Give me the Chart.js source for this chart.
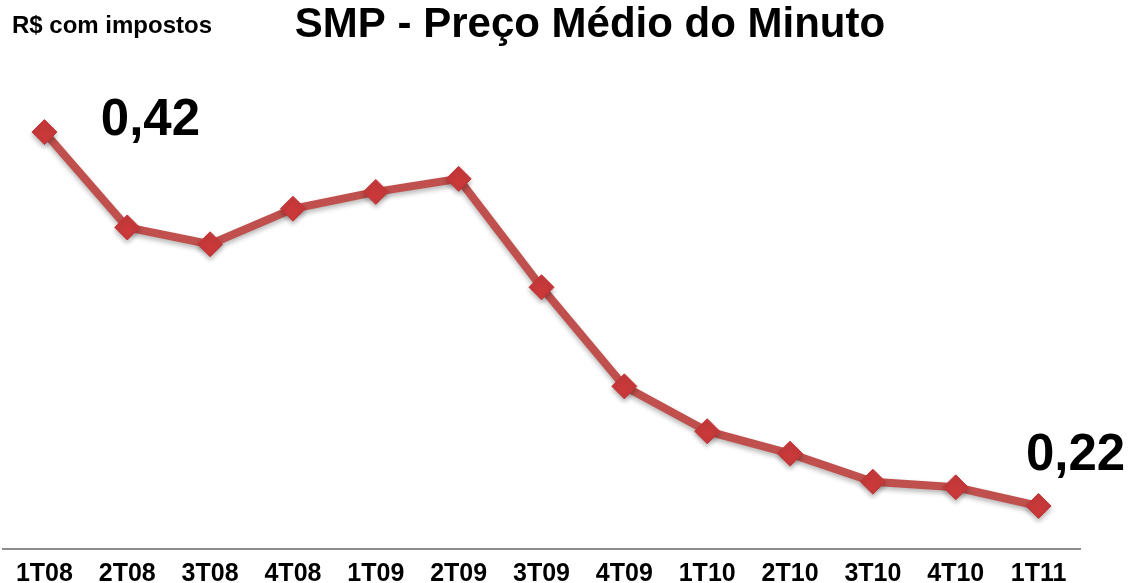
<!DOCTYPE html>
<html>
<head>
<meta charset="utf-8">
<script src="https://cdn.jsdelivr.net/npm/chart.js@4"></script>
<style>
  html, body { margin: 0; padding: 0; background: #ffffff; }
  #wrap { width: 1130px; height: 583px; position: relative; }
</style>
</head>
<body>
<div id="wrap"><canvas id="smpChart"></canvas></div>
<script>
// quarters and average price per minute (R$ com impostos)
const quarters = ['1T08', '2T08', '3T08', '4T08', '1T09', '2T09', '3T09', '4T09', '1T10', '2T10', '3T10', '4T10', '1T11'];
const prices = [0.420, 0.369, 0.360, 0.379, 0.388, 0.395, 0.337, 0.284, 0.260, 0.248, 0.233, 0.230, 0.220];
const highlightLabels = ['0,42', '0,22'];

const FONT = '"Liberation Sans", Arial, sans-serif';

// titles and the two highlighted values
const textPlugin = {
    id: 'smpText',
    afterDraw(chart) {
        const ctx = chart.ctx;
        const pts = chart.getDatasetMeta(0).data;
        ctx.save();
        ctx.fillStyle = '#000000';
        ctx.textBaseline = 'alphabetic';

        ctx.font = 'bold 24px ' + FONT;
        ctx.textAlign = 'left';
        ctx.fillText('R$ com impostos', 12, 33);

        ctx.font = 'bold 42px ' + FONT;
        ctx.textAlign = 'center';
        ctx.fillText('SMP - Preço Médio do Minuto', 590, 37);

        ctx.font = 'bold 51px ' + FONT;
        const first = pts[0];
        const last = pts[pts.length - 1];
        ctx.fillText(highlightLabels[0], first.x + 106, first.y + 3);
        ctx.fillText(highlightLabels[1], last.x + 37, last.y - 36);
        ctx.restore();
    }
};

// soft shadow under the line and markers
const shadowPlugin = {
    id: 'smpShadow',
    beforeDatasetDraw(chart) {
        const ctx = chart.ctx;
        ctx.save();
        ctx.shadowColor = 'rgba(0, 0, 0, 0.28)';
        ctx.shadowBlur = 5;
        ctx.shadowOffsetY = 3;
    },
    afterDatasetDraw(chart) {
        chart.ctx.restore();
    }
};

new Chart(document.getElementById('smpChart'), {
    type: 'line',
    data: {
        labels: quarters,
        datasets: [{
            data: prices,
            borderColor: '#c0504d',
            borderWidth: 8,
            tension: 0,
            pointStyle: 'rectRot',
            pointRadius: 12.5,
            pointHoverRadius: 12.5,
            pointBackgroundColor: '#c9393a',
            pointBorderColor: '#c23436',
            pointBorderWidth: 1
        }]
    },
    options: {
        responsive: true,
        maintainAspectRatio: false,
        animation: false,
        layout: {
            autoPadding: false,
            padding: { top: 76, left: 3, right: 50, bottom: -17 }
        },
        plugins: {
            legend: { display: false },
            tooltip: { enabled: false }
        },
        scales: {
            x: {
                offset: true,
                grid: { display: false, drawTicks: false },
                border: { display: true, color: '#8c8c8c', width: 2 },
                ticks: {
                    color: '#000000',
                    padding: 13,
                    maxRotation: 0,
                    autoSkip: false,
                    font: { family: FONT, size: 25, weight: 'bold', lineHeight: 1 }
                }
            },
            y: {
                display: false,
                min: 0.197,
                max: 0.45
            }
        }
    },
    plugins: [shadowPlugin, textPlugin]
});
</script>
</body>
</html>
